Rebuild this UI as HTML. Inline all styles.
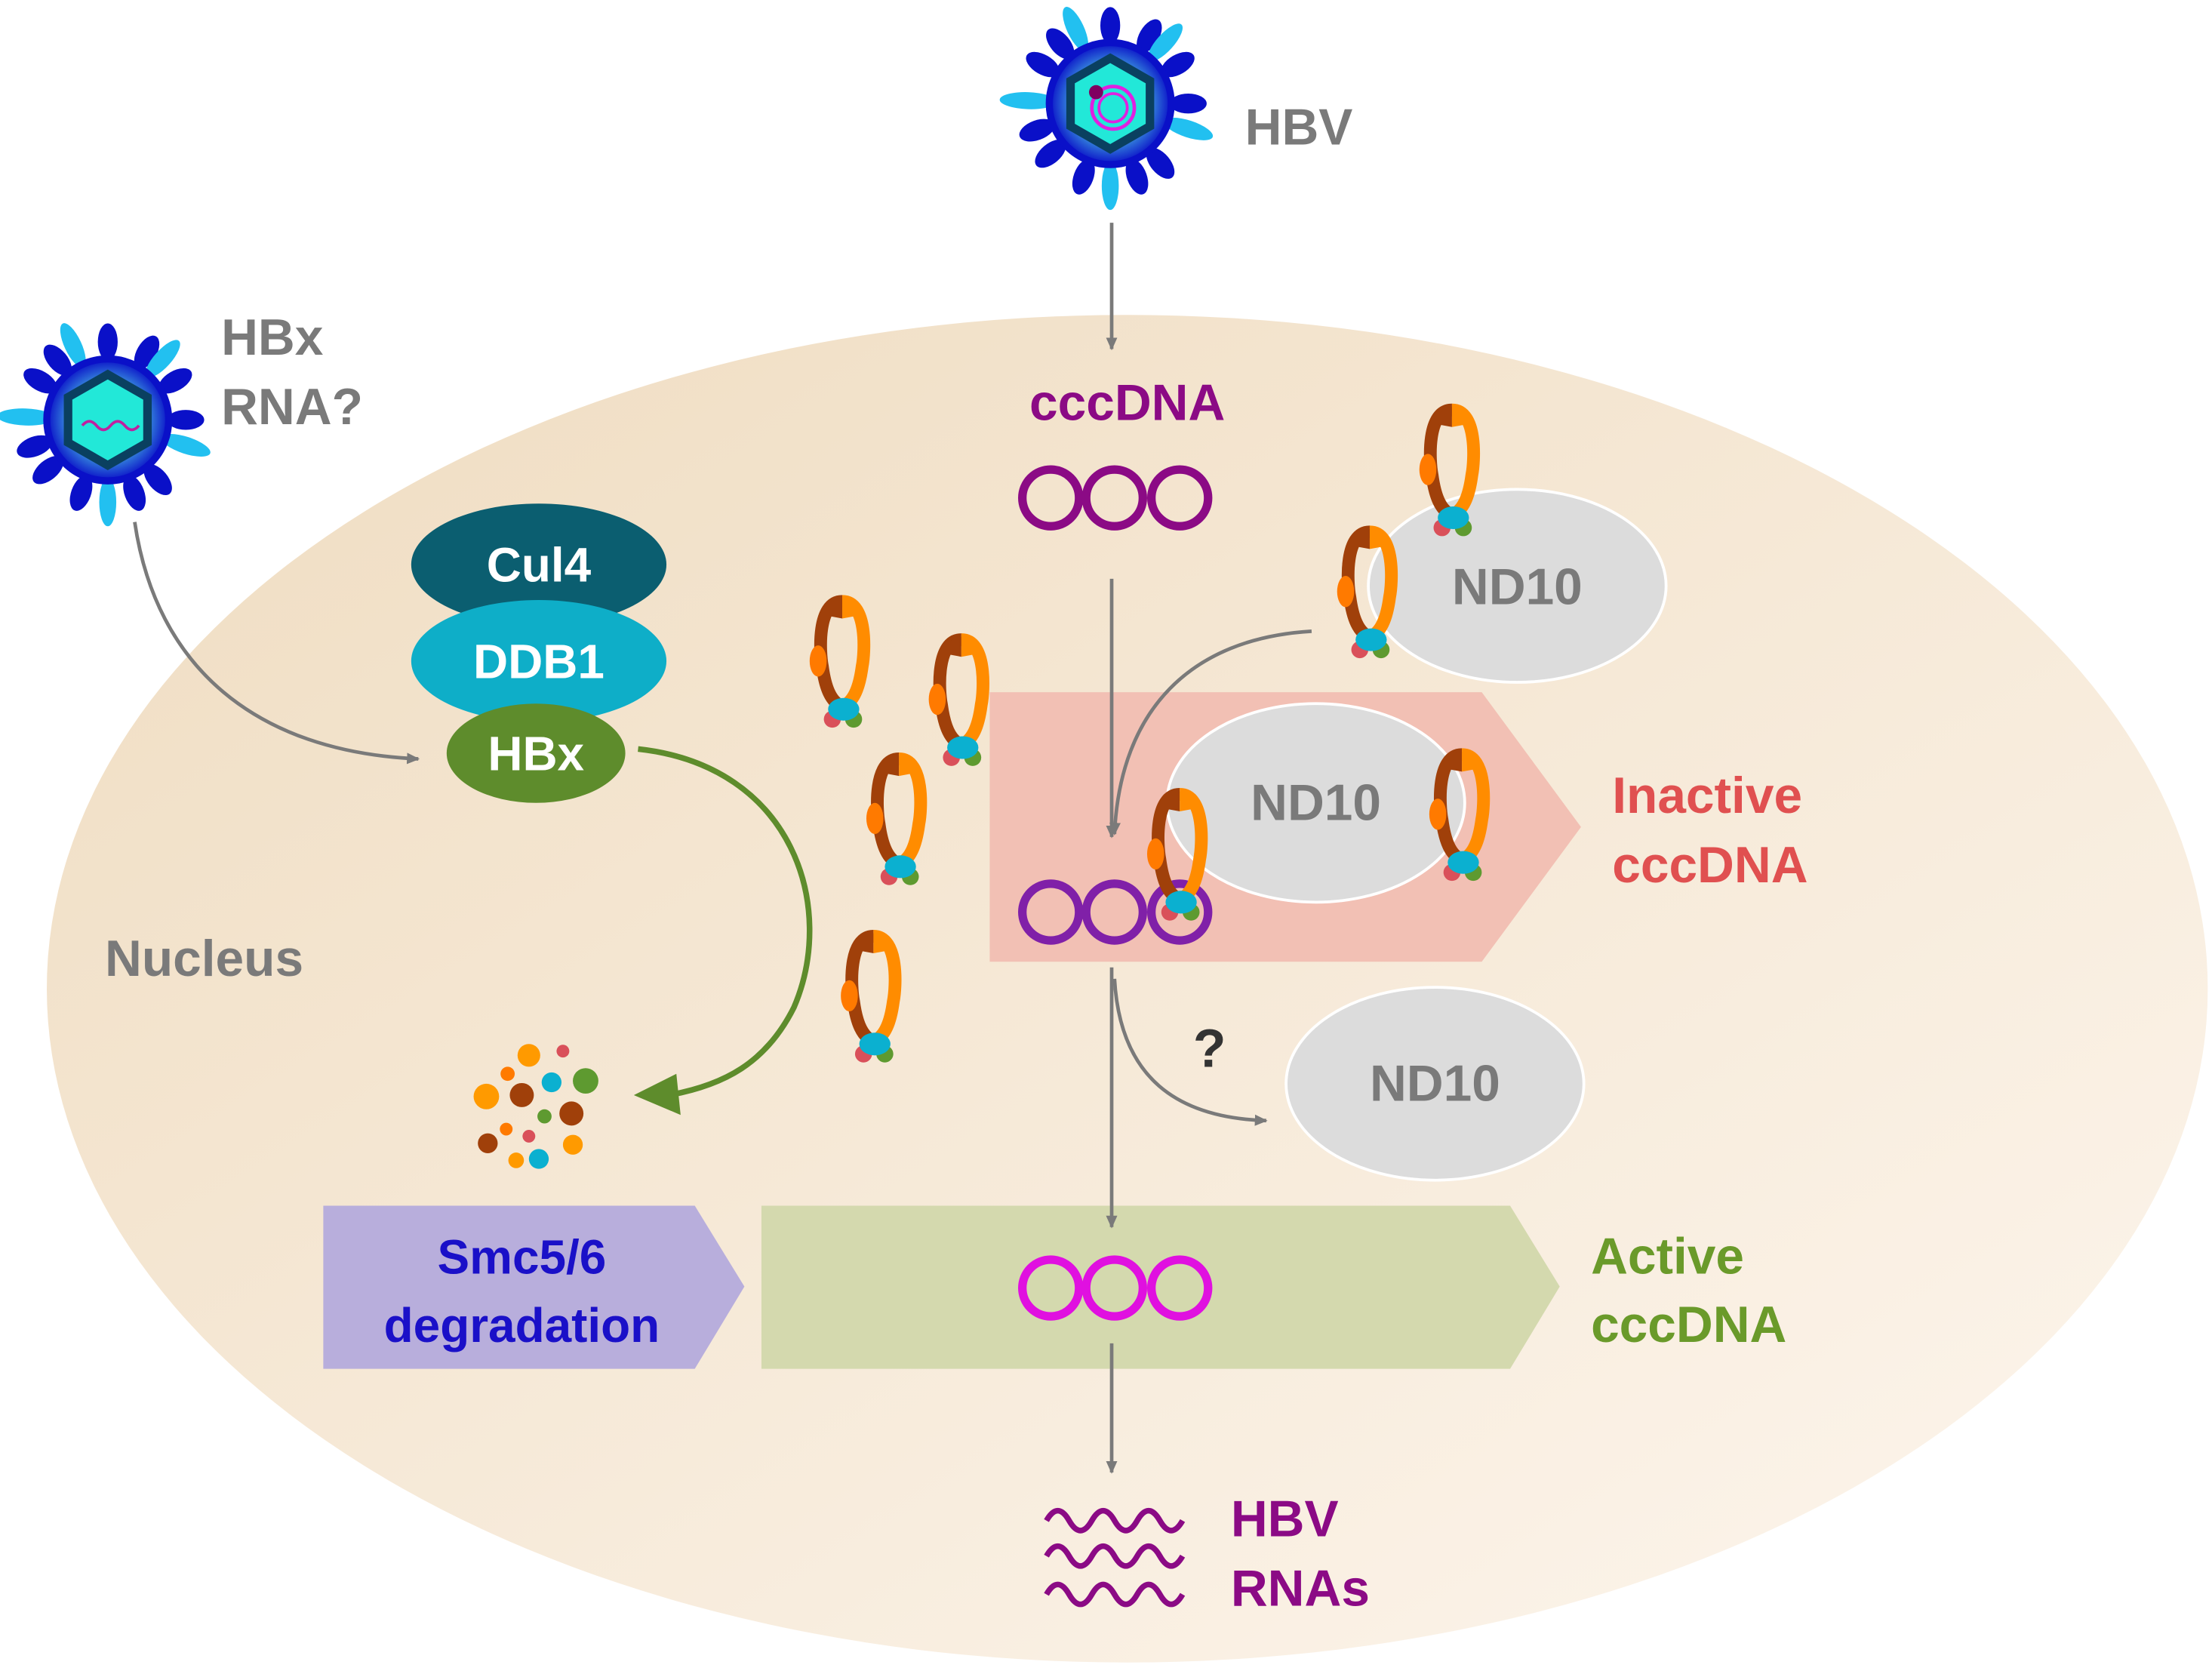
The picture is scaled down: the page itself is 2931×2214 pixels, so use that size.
<!DOCTYPE html>
<html><head><meta charset="utf-8"><style>
html,body{margin:0;padding:0;background:#fff;}
svg{display:block;}
text{font-family:"Liberation Sans",Arial,sans-serif;font-weight:bold;}
</style></head><body>
<svg width="2931" height="2214" viewBox="0 0 1560 1178" preserveAspectRatio="none" xmlns="http://www.w3.org/2000/svg">
<defs>
<linearGradient id="nuc" x1="0" y1="0" x2="1" y2="1">
<stop offset="0" stop-color="#efdcc0"/><stop offset="1" stop-color="#fdf6ee"/>
</linearGradient>
<radialGradient id="vb" cx="0.5" cy="0.5" r="0.5">
<stop offset="0.6" stop-color="#3fa0e0"/><stop offset="1" stop-color="#0a10c8"/>
</radialGradient>
<marker id="ag" markerWidth="10" markerHeight="10" refX="8" refY="5" orient="auto" markerUnits="userSpaceOnUse">
<path d="M0,1 L9,5 L0,9 Z" fill="#7a7a7a"/></marker>
<g id="smc">
<path d="M0,4 C-18,4 -16,40 -14,50 C-12,65 -8,75 0,78" fill="none" stroke="#a0400a" stroke-width="9"/>
<path d="M0,4 C18,4 16,40 14,50 C12,65 8,75 0,78" fill="none" stroke="#ff8c00" stroke-width="9"/>
<path d="M-11,14 A11,11 0 0 1 0,2 L0,16 Z" fill="#a0400a"/>
<path d="M11,14 A11,11 0 0 0 0,2 L0,16 Z" fill="#ff8c00"/>
<ellipse cx="-17" cy="46" rx="6" ry="11" fill="#ff7a00"/>
<circle cx="-7" cy="87" r="6" fill="#d9505a"/>
<circle cx="8" cy="87" r="6" fill="#5e9a30"/>
<ellipse cx="1" cy="80" rx="11" ry="8" fill="#0bb0d0"/>
</g>
<g id="virus">
<g fill="#0a10c8">
<ellipse cx="0" cy="-55" rx="7" ry="13"/>
<ellipse cx="0" cy="-55" rx="7" ry="13" transform="rotate(30)"/>
<ellipse cx="0" cy="-55" rx="7" ry="13" transform="rotate(60)"/>
<ellipse cx="0" cy="-55" rx="7" ry="13" transform="rotate(90)"/>
<ellipse cx="0" cy="-55" rx="7" ry="13" transform="rotate(140)"/>
<ellipse cx="0" cy="-55" rx="7" ry="13" transform="rotate(160)"/>
<ellipse cx="0" cy="-55" rx="7" ry="13" transform="rotate(200)"/>
<ellipse cx="0" cy="-55" rx="7" ry="13" transform="rotate(230)"/>
<ellipse cx="0" cy="-55" rx="7" ry="13" transform="rotate(250)"/>
<ellipse cx="0" cy="-55" rx="7" ry="13" transform="rotate(300)"/>
<ellipse cx="0" cy="-55" rx="7" ry="13" transform="rotate(320)"/>
</g>
<g fill="#22c0f0">
<ellipse cx="0" cy="-58" rx="6" ry="17" transform="rotate(-25)"/>
<ellipse cx="0" cy="-58" rx="6" ry="17" transform="rotate(42)"/>
<ellipse cx="0" cy="-58" rx="6" ry="18" transform="rotate(108)"/>
<ellipse cx="0" cy="-58" rx="6" ry="17" transform="rotate(180)"/>
<ellipse cx="0" cy="-58" rx="6" ry="20" transform="rotate(272)"/>
</g>
<circle r="43" fill="url(#vb)" stroke="#0a10c8" stroke-width="5"/>
<polygon points="0,-32 28,-16 28,16 0,32 -28,16 -28,-16" fill="#22e8d8" stroke="#0a4060" stroke-width="6"/>
</g>
</defs>

<ellipse cx="795" cy="697" rx="762" ry="475" fill="url(#nuc)"/>

<!-- HBV top -->
<use href="#virus" x="783" y="73"/>
<circle cx="785" cy="76" r="15" fill="none" stroke="#e020e0" stroke-width="2.5"/>
<circle cx="785" cy="76" r="10" fill="none" stroke="#e020e0" stroke-width="2"/>
<circle cx="773" cy="65" r="5" fill="#800060"/>
<text x="878" y="102" font-size="36" fill="#7a7a7a">HBV</text>

<!-- HBx virus -->
<use href="#virus" x="76" y="296"/>
<path d="M58,300 q5,-6 10,0 t10,0 t10,0 t10,0" fill="none" stroke="#c020a0" stroke-width="2"/>
<text x="156" y="250" font-size="36" fill="#7a7a7a">HBx</text>
<text x="156" y="299" font-size="36" fill="#7a7a7a">RNA?</text>

<!-- arrows -->
<line x1="784" y1="157" x2="784" y2="246" stroke="#7a7a7a" stroke-width="2.5" marker-end="url(#ag)"/>
<path d="M95,368 C110,470 180,530 295,535" fill="none" stroke="#7a7a7a" stroke-width="2.5" marker-end="url(#ag)"/>

<text x="795" y="296" font-size="36" fill="#8b0a85" text-anchor="middle">cccDNA</text>
<g fill="none" stroke="#8b0a85" stroke-width="6">
<circle cx="741" cy="351" r="20"/><circle cx="786" cy="351" r="20"/><circle cx="832" cy="351" r="20"/>
</g>

<!-- pink box -->
<polygon points="698,488 1045,488 1115,583 1045,678 698,678" fill="#f2c0b4"/>
<!-- green box -->
<polygon points="537,850 1065,850 1100,907 1065,965 537,965" fill="#d4d9ae"/>
<!-- purple box -->
<polygon points="228,850 490,850 525,907 490,965 228,965" fill="#b8aedc"/>

<!-- ND10 ellipses -->
<ellipse cx="1070" cy="413" rx="105" ry="68" fill="#dcdcdc" stroke="#fff" stroke-width="2"/>
<text x="1070" y="426" font-size="36" fill="#7a7a7a" text-anchor="middle">ND10</text>
<ellipse cx="928" cy="566" rx="105" ry="70" fill="#dcdcdc" stroke="#fff" stroke-width="2"/>
<text x="928" y="578" font-size="36" fill="#7a7a7a" text-anchor="middle">ND10</text>
<ellipse cx="1012" cy="764" rx="105" ry="68" fill="#dcdcdc" stroke="#fff" stroke-width="2"/>
<text x="1012" y="776" font-size="36" fill="#7a7a7a" text-anchor="middle">ND10</text>

<line x1="784" y1="408" x2="784" y2="590" stroke="#7a7a7a" stroke-width="2.5" marker-end="url(#ag)"/>
<path d="M925,445 C840,450 790,500 786,588" fill="none" stroke="#7a7a7a" stroke-width="2.5" marker-end="url(#ag)"/>

<!-- inactive cccDNA circles -->
<g fill="none" stroke="#8020a8" stroke-width="6">
<circle cx="741" cy="643" r="20"/><circle cx="786" cy="643" r="20"/><circle cx="832" cy="643" r="20"/>
</g>

<text x="1137" y="573" font-size="36" fill="#e05050">Inactive</text>
<text x="1137" y="622" font-size="36" fill="#e05050">cccDNA</text>

<!-- SMC complexes -->
<use href="#smc" x="594" y="420"/>
<use href="#smc" x="678" y="447"/>
<use href="#smc" x="634" y="531"/>
<use href="#smc" x="616" y="656"/>
<use href="#smc" x="1024" y="285"/>
<use href="#smc" x="966" y="371"/>
<use href="#smc" x="1031" y="528"/>
<use href="#smc" x="832" y="556"/>

<!-- lower arrows -->
<line x1="784" y1="682" x2="784" y2="865" stroke="#7a7a7a" stroke-width="2.5" marker-end="url(#ag)"/>
<path d="M786,690 C790,760 830,788 893,790" fill="none" stroke="#7a7a7a" stroke-width="2.5" marker-end="url(#ag)"/>
<text x="853" y="752" font-size="38" fill="#333" text-anchor="middle">?</text>

<g fill="none" stroke="#e010e0" stroke-width="6">
<circle cx="741" cy="908" r="20"/><circle cx="786" cy="908" r="20"/><circle cx="832" cy="908" r="20"/>
</g>
<text x="1122" y="898" font-size="36" fill="#6a9a2a">Active</text>
<text x="1122" y="946" font-size="36" fill="#6a9a2a">cccDNA</text>

<line x1="784" y1="947" x2="784" y2="1038" stroke="#7a7a7a" stroke-width="2.5" marker-end="url(#ag)"/>
<g fill="none" stroke="#8b0a85" stroke-width="4">
<path d="M738,1072 q8,-14 16,0 t16,0 t16,0 t16,0 t16,0 t16,0"/>
<path d="M738,1097 q8,-14 16,0 t16,0 t16,0 t16,0 t16,0 t16,0"/>
<path d="M738,1124 q8,-14 16,0 t16,0 t16,0 t16,0 t16,0 t16,0"/>
</g>
<text x="868" y="1083" font-size="36" fill="#8b0a85">HBV</text>
<text x="868" y="1132" font-size="36" fill="#8b0a85">RNAs</text>

<text x="368" y="898" font-size="34" fill="#1a10c8" text-anchor="middle">Smc5/6</text>
<text x="368" y="946" font-size="34" fill="#1a10c8" text-anchor="middle">degradation</text>

<!-- Cul4 DDB1 HBx -->
<ellipse cx="380" cy="398" rx="90" ry="43" fill="#0b5e70"/>
<text x="380" y="410" font-size="34" fill="#fff" text-anchor="middle">Cul4</text>
<ellipse cx="380" cy="466" rx="90" ry="43" fill="#0eaec8"/>
<text x="380" y="478" font-size="34" fill="#fff" text-anchor="middle">DDB1</text>
<ellipse cx="378" cy="531" rx="63" ry="35" fill="#5e8c2c"/>
<text x="378" y="543" font-size="34" fill="#fff" text-anchor="middle">HBx</text>

<path d="M450,528 C560,540 590,640 560,710 C540,750 510,765 472,772" fill="none" stroke="#5e8c2c" stroke-width="4"/>
<polygon points="447,772 477,757 480,786" fill="#5e8c2c"/>

<text x="74" y="688" font-size="36" fill="#7a7a7a">Nucleus</text>

<!-- debris -->
<g>
<circle cx="373" cy="744" r="8" fill="#ff9a00"/>
<circle cx="397" cy="741" r="4.5" fill="#d9505a"/>
<circle cx="358" cy="757" r="5" fill="#ff7a00"/>
<circle cx="389" cy="763" r="7" fill="#0bb0d0"/>
<circle cx="413" cy="762" r="9" fill="#5e9a30"/>
<circle cx="343" cy="773" r="9" fill="#ff9a00"/>
<circle cx="368" cy="772" r="8.5" fill="#a0400a"/>
<circle cx="384" cy="787" r="5" fill="#5e9a30"/>
<circle cx="403" cy="785" r="8.5" fill="#a0400a"/>
<circle cx="357" cy="796" r="4.5" fill="#ff7a00"/>
<circle cx="373" cy="801" r="4.5" fill="#d9505a"/>
<circle cx="344" cy="806" r="7" fill="#a0400a"/>
<circle cx="404" cy="807" r="7" fill="#ff9a00"/>
<circle cx="364" cy="818" r="5.5" fill="#ff9a00"/>
<circle cx="380" cy="817" r="7" fill="#0bb0d0"/>
</g>
</svg>
</body></html>
